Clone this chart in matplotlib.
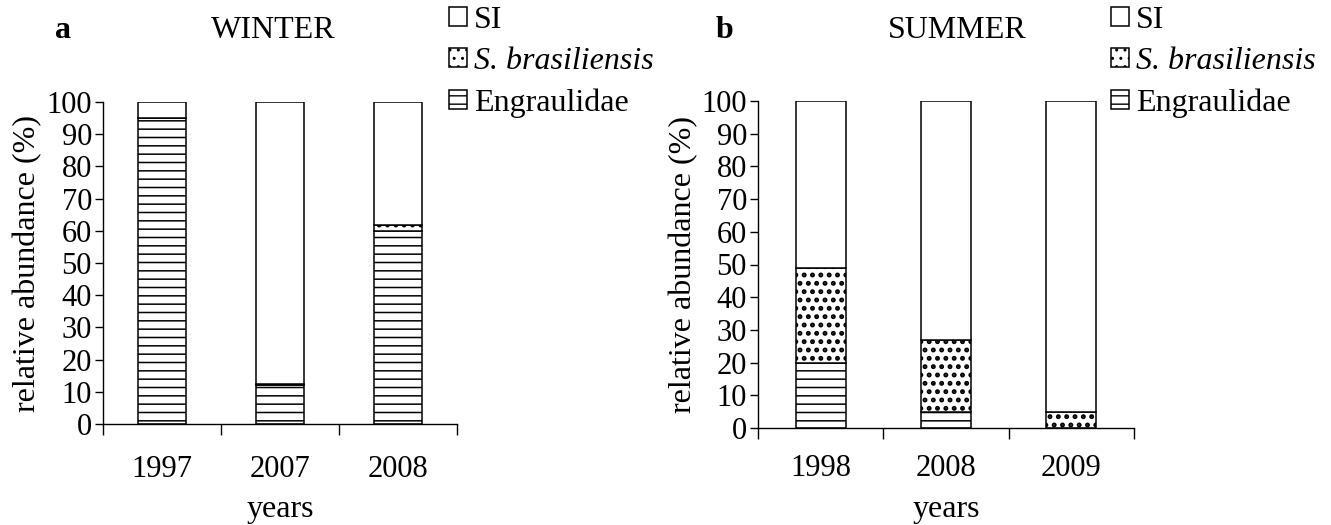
import matplotlib
matplotlib.use("Agg")
import matplotlib.pyplot as plt
import numpy as np

plt.rcParams['font.family'] = ['Liberation Serif', 'DejaVu Serif']

# Relative abundance (%) of larvae by season and year
winter_years = ['1997', '2007', '2008']
winter_engraulidae = [95, 12, 60]
winter_brasiliensis = [0, 0.5, 1.8]
winter_si = [5, 87.5, 38.2]

summer_years = ['1998', '2008', '2009']
summer_engraulidae = [20, 5, 0]
summer_brasiliensis = [29, 22, 5]
summer_si = [51, 73, 95]

series_labels = ['SI', 'S. brasiliensis', 'Engraulidae']
yticks = list(range(0, 101, 10))

FS_TICK = 22
FS_TEXT = 23

W, H = 1331, 525
fig = plt.figure(figsize=(W / 100, H / 100), dpi=100)


def px_axes(left, top, right, bottom):
    return fig.add_axes([left / W, 1 - bottom / H, (right - left) / W, (bottom - top) / H])


ax_a = px_axes(103, 102, 457, 424)
ax_b = px_axes(758, 101, 1134, 428)


def draw_panel(ax, years, eng, sbr, si, width, xpad, ylab_x, xlab_y):
    x = np.arange(len(years))
    kw = dict(width=width, edgecolor='black', linewidth=1.1, color='white')
    with plt.rc_context({'hatch.linewidth': 1.1}):
        b_eng = ax.bar(x, eng, hatch='--', **kw)
    with plt.rc_context({'hatch.linewidth': 2.3}):
        b_sbr = ax.bar(x, sbr, bottom=eng, hatch='..', **kw)
    bottom2 = np.array(eng) + np.array(sbr)
    b_si = ax.bar(x, si, bottom=bottom2, **kw)
    ax.set_xlim(-0.5, len(years) - 0.5)
    ax.set_ylim(0, 100)
    ax.set_yticks(yticks)
    ax.tick_params(axis='y', labelsize=FS_TICK, direction='out', length=6,
                   width=1, pad=2)
    ax.set_xticks(x)
    ax.set_xticklabels(years)
    ax.tick_params(axis='x', which='major', labelsize=FS_TICK, length=0, pad=xpad)
    ax.set_xticks(np.arange(-0.5, len(years)), minor=True)
    ax.tick_params(axis='x', which='minor', direction='out', length=8, width=1)
    for s in ['top', 'right']:
        ax.spines[s].set_visible(False)
    for s in ['left', 'bottom']:
        ax.spines[s].set_linewidth(1)
    ax.set_ylabel('relative abundance (%)', fontsize=FS_TEXT)
    ax.set_xlabel('years', fontsize=FS_TEXT)
    # place axis labels at fixed pixel positions
    ax.yaxis.set_label_coords(ylab_x / W, 0.5,
                              transform=matplotlib.transforms.blended_transform_factory(
                                  fig.transFigure, ax.transAxes))
    ax.yaxis.label.set_va('center')
    ax.xaxis.set_label_coords(0.5, 1 - xlab_y / H,
                              transform=matplotlib.transforms.blended_transform_factory(
                                  ax.transAxes, fig.transFigure))
    ax.xaxis.label.set_va('center')
    return b_si, b_sbr, b_eng


handles_a = draw_panel(ax_a, winter_years, winter_engraulidae,
                       winter_brasiliensis, winter_si, 0.41, 22, 28, 509)
handles_b = draw_panel(ax_b, summer_years, summer_engraulidae,
                       summer_brasiliensis, summer_si, 0.40, 19, 684, 509)

for handles, xpos in [(handles_a, 449), (handles_b, 1111)]:
    leg = fig.legend(handles, series_labels, loc='upper left',
                     bbox_to_anchor=(xpos / W, 1 - 6 / H), frameon=False,
                     fontsize=FS_TEXT, handlelength=0.55, handleheight=0.55,
                     handletextpad=0.22, labelspacing=0.38, borderaxespad=0,
                     borderpad=0)
    leg.get_texts()[1].set_fontstyle('italic')

fig.text(63 / W, 1 - 30 / H, 'a', fontsize=FS_TEXT, fontweight='bold', ha='center', va='center')
fig.text(273 / W, 1 - 30 / H, 'WINTER', fontsize=FS_TEXT, ha='center', va='center')
fig.text(724 / W, 1 - 30 / H, 'b', fontsize=FS_TEXT, fontweight='bold', ha='center', va='center')
fig.text(957 / W, 1 - 30 / H, 'SUMMER', fontsize=FS_TEXT, ha='center', va='center')

fig.savefig('out.png', dpi=100)
